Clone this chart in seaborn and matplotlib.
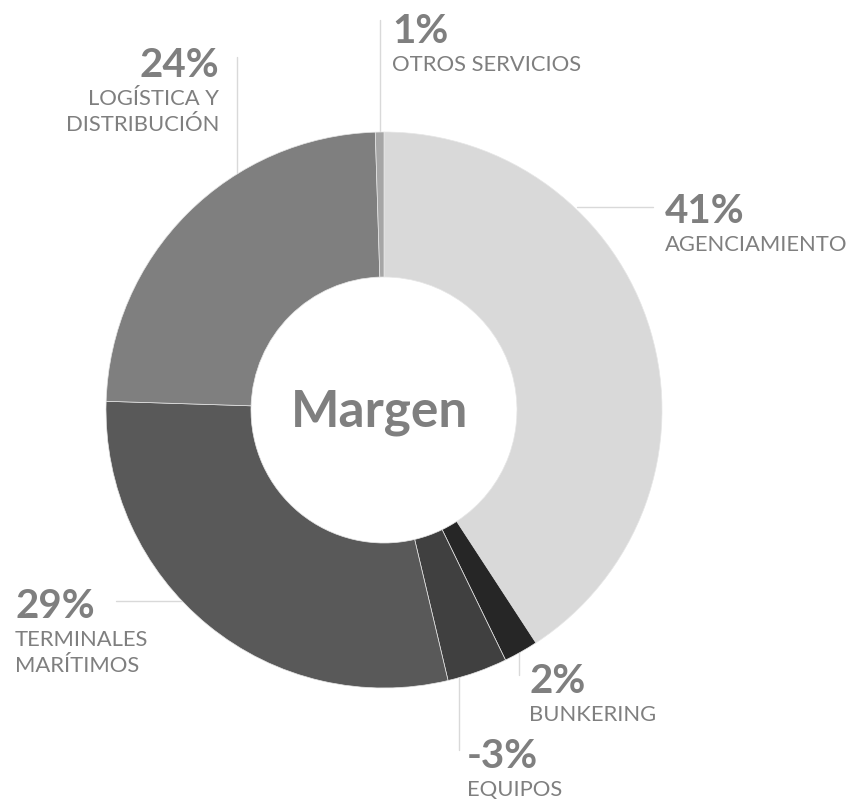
import matplotlib
matplotlib.use("Agg")
import matplotlib.pyplot as plt
import seaborn as sns

# Slice data, clockwise from 12 o'clock
segments = ["AGENCIAMIENTO", "BUNKERING", "EQUIPOS", "TERMINALES\nMARÍTIMOS",
            "LOGÍSTICA Y\nDISTRIBUCIÓN", "OTROS SERVICIOS"]
shares = [41, 2, -3, 29, 24, 1]                 # printed labels
slice_sizes = [40.8, 2.0, 3.5, 29.2, 24.0, 0.5]  # unrounded, as drawn
greys = ["#d9d9d9", "#262626", "#404040", "#595959", "#7f7f7f", "#a6a6a6"]
center_title = "Margen"

TEXT = "#7f7f7f"
LEADER = "#d9d9d9"

sns.set_theme(style="white")
plt.rcParams["font.family"] = ["Lato", "DejaVu Sans"]

W, H = 855, 800
fig = plt.figure(figsize=(W / 100, H / 100), dpi=100)
ax = fig.add_axes([0, 0, 1, 1])

# donut, pixel coordinates (y measured from bottom)
cx, cy, r_out, r_in = 384, H - 410, 278, 133
ax.pie(slice_sizes, colors=greys, startangle=90, counterclock=False,
       center=(cx, cy), radius=r_out,
       wedgeprops=dict(width=r_out - r_in, edgecolor="#e6e6e6", linewidth=0.5))
ax.set_xlim(0, W)
ax.set_ylim(0, H)
ax.set_aspect("equal")
ax.axis("off")

ax.text(cx - 4, H - 427, center_title, ha="center", va="baseline",
        fontsize=37, fontweight="bold", color=TEXT)

# label layout: (x, pct baseline, align, leader line endpoints) in top-down pixels
layout = {
    "AGENCIAMIENTO": (665, 223, "left", ((577, 207), (653, 207))),
    "BUNKERING": (529, 693, "left", ((519, 652), (519, 675))),
    "EQUIPOS": (467, 768, "left", ((459, 678), (459, 750))),
    "TERMINALES\nMARÍTIMOS": (15, 618, "left", ((116, 601), (185, 601))),
    "LOGÍSTICA Y\nDISTRIBUCIÓN": (219, 77, "right", ((237, 57), (237, 174))),
    "OTROS SERVICIOS": (392, 43, "left", ((380, 20), (380, 133))),
}

for name, val in zip(segments, shares):
    x, yb, al, ((x0, y0), (x1, y1)) = layout[name]
    ax.plot([x0, x1], [H - y0, H - y1], color=LEADER, lw=1, zorder=0)
    ax.text(x, H - yb, f"{val}%", ha=al, va="baseline", fontsize=29,
            fontweight="bold", color=TEXT)
    for i, line in enumerate(name.split("\n")):
        ax.text(x, H - (yb + 28 + 26 * i), line, ha=al, va="baseline",
                fontsize=15.8, color=TEXT)

fig.savefig("out.png", dpi=100, facecolor="white")
